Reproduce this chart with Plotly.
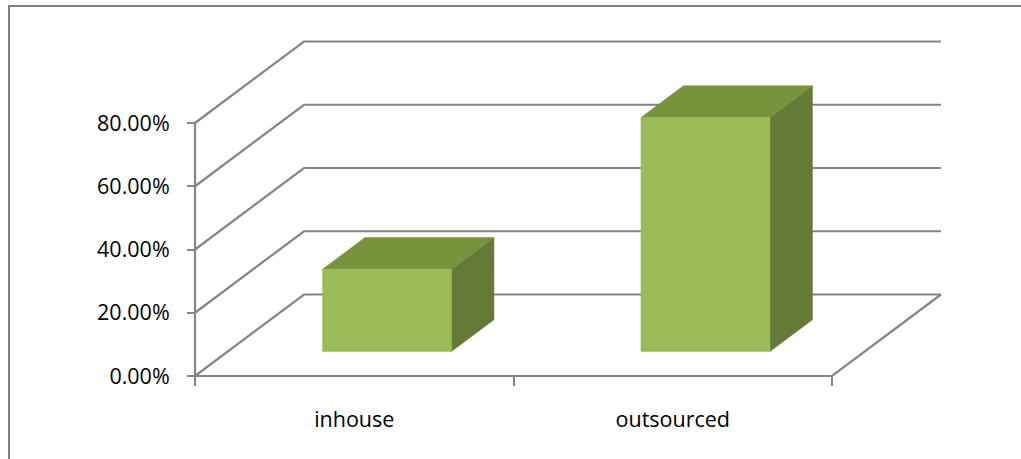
import plotly.graph_objects as go

# ---- data ----
categories = ["inhouse", "outsourced"]
shares = [0.26, 0.74]
value_ticks = [0.0, 0.2, 0.4, 0.6, 0.8]

# ---- canvas / projection settings ----
W, H = 1021, 459
ORIGIN_X, ORIGIN_Y = 195, 376   # front-plane origin (pixels)
CAT_PX = 318.5                  # pixels per category band
UNIT_PX = 316.25                # pixels per 100 %

DEPTH_U = 109 / CAT_PX          # depth offset along x (axis units)
DEPTH_V = 81.5 / UNIT_PX        # depth offset along y (axis units)
BAR_WIDTH = 0.405
BAR_FRONT, BAR_BACK = 0.30, 0.69

FACE_FRONT = "#9BBB59"
FACE_TOP = "#77933C"
FACE_SIDE = "#657A37"
GRID = "#858585"
FONT = dict(family="Open Sans, sans-serif", size=21.5, color="#000000")

fig = go.Figure()


def add_line(xs, ys, color=GRID, width=2.2):
    fig.add_trace(go.Scatter(x=xs, y=ys, mode="lines",
                             line=dict(color=color, width=width),
                             hoverinfo="skip", showlegend=False))


def add_face(xs, ys, color):
    fig.add_trace(go.Scatter(x=xs + [xs[0]], y=ys + [ys[0]], mode="lines",
                             fill="toself", fillcolor=color,
                             line=dict(color=color, width=0.5),
                             hoverinfo="skip", showlegend=False))


n = len(categories)

# side wall diagonals and back wall lines for each value tick
for v in value_ticks:
    add_line([0, DEPTH_U, n + DEPTH_U], [v, v + DEPTH_V, v + DEPTH_V])

# floor: front edge and right edge
add_line([0, n, n + DEPTH_U], [0, 0, DEPTH_V])
# front value axis
add_line([0, 0], [0, value_ticks[-1]])

# 3D bars
for i, v in enumerate(shares):
    xl = i + 0.5 - BAR_WIDTH / 2
    xr = i + 0.5 + BAR_WIDTH / 2
    fu, fv = BAR_FRONT * DEPTH_U, BAR_FRONT * DEPTH_V
    bu, bv = BAR_BACK * DEPTH_U, BAR_BACK * DEPTH_V
    # right side
    add_face([xr + fu, xr + bu, xr + bu, xr + fu],
             [fv, bv, bv + v, fv + v], FACE_SIDE)
    # top
    add_face([xl + fu, xr + fu, xr + bu, xl + bu],
             [fv + v, fv + v, bv + v, bv + v], FACE_TOP)
    # front
    add_face([xl + fu, xr + fu, xr + fu, xl + fu],
             [fv, fv, fv + v, fv + v], FACE_FRONT)

x_range = [-ORIGIN_X / CAT_PX, (W - ORIGIN_X) / CAT_PX]
y_range = [-(H - ORIGIN_Y) / UNIT_PX, ORIGIN_Y / UNIT_PX]

fig.update_layout(
    width=W, height=H,
    margin=dict(l=0, r=0, t=0, b=0),
    paper_bgcolor="white", plot_bgcolor="white",
    font=FONT,
    xaxis=dict(range=x_range, anchor="free", position=(H - ORIGIN_Y) / H,
               showgrid=False, zeroline=False, showline=False,
               tickvals=list(range(n + 1)), ticktext=[""] * (n + 1),
               ticks="outside", ticklen=9, tickwidth=2.2, tickcolor=GRID,
               fixedrange=True),
    xaxis2=dict(range=x_range, overlaying="x", anchor="free",
                position=(H - ORIGIN_Y) / H, side="bottom",
                showgrid=False, zeroline=False, showline=False,
                tickvals=[i + 0.5 for i in range(n)], ticktext=categories,
                ticks="", ticklabelstandoff=28, tickfont=FONT,
                fixedrange=True),
    yaxis=dict(range=y_range, anchor="free", position=ORIGIN_X / W,
               showgrid=False, zeroline=False, showline=False,
               tickvals=value_ticks, tickformat=".2%",
               ticks="outside", ticklen=8, tickwidth=2.2, tickcolor=GRID,
               ticklabelstandoff=13, tickfont=FONT, fixedrange=True),
    shapes=[dict(type="rect", xref="paper", yref="paper",
                 x0=9 / W, x1=1.05, y0=-0.05, y1=1 - 6 / H,
                 line=dict(color="#7F7F7F", width=2), layer="below")],
)

# invisible trace so the category axis is rendered
fig.add_trace(go.Scatter(x=[0.5], y=[0], xaxis="x2", mode="markers",
                         marker=dict(opacity=0), hoverinfo="skip",
                         showlegend=False))

fig.write_html("out.html")
